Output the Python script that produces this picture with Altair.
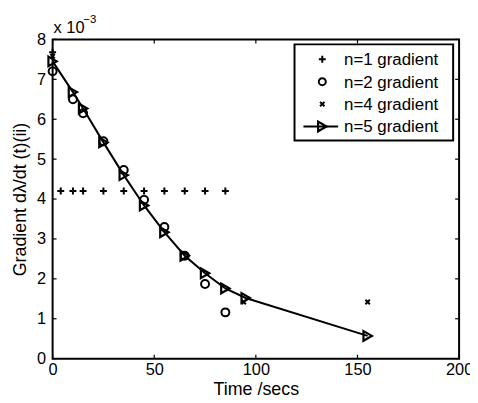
import altair as alt
import pandas as pd

# ---- data ----
t_n1 = [0, 4, 10, 15, 25, 35, 45, 55, 65, 75, 85]
g_n1 = [7.68e-3, 4.2e-3, 4.2e-3, 4.2e-3, 4.2e-3, 4.2e-3, 4.2e-3, 4.2e-3, 4.2e-3, 4.2e-3, 4.2e-3]

t_n2 = [0, 10, 15, 25, 35, 45, 55, 65, 75, 85]
g_n2 = [7.2e-3, 6.5e-3, 6.15e-3, 5.45e-3, 4.73e-3, 3.98e-3, 3.3e-3, 2.58e-3, 1.87e-3, 1.16e-3]

t_n4 = [0, 94, 155]
g_n4 = [7.58e-3, 1.42e-3, 1.42e-3]

t_n5 = [0, 10, 15, 25, 35, 45, 55, 65, 75, 85, 95, 155]
g_n5 = [7.45e-3, 6.68e-3, 6.27e-3, 5.42e-3, 4.6e-3, 3.84e-3, 3.17e-3, 2.58e-3, 2.14e-3, 1.76e-3, 1.52e-3, 0.57e-3]

x_ticks = [0, 50, 100, 150, 200]
y_ticks = [0, 1e-3, 2e-3, 3e-3, 4e-3, 5e-3, 6e-3, 7e-3, 8e-3]
legend_labels = ["n=1 gradient", "n=2 gradient", "n=4 gradient", "n=5 gradient"]
x_title = "Time /secs"
y_title = "Gradient dλ/dt (t)(ii)"

W, H = 410, 322
FONT = "Liberation Sans"

xscale = alt.Scale(domain=[0, 200], nice=False, zero=False)
yscale = alt.Scale(domain=[0, 0.008], nice=False, zero=False)

xaxis = alt.Axis(values=x_ticks, ticks=False, tickSize=0, domain=False, grid=False,
                 labelFlush=False, labelOverlap=False,
                 labelFont=FONT, labelFontSize=16.5, labelColor="black", labelPadding=3,
                 title=x_title, titleFont=FONT, titleFontSize=18, titleFontWeight="normal",
                 titleColor="black", titlePadding=3)
yaxis = alt.Axis(values=y_ticks, ticks=False, tickSize=0, domain=False, grid=False,
                 labelFlush=False, labelOverlap=False,
                 labelExpr="format(datum.value*1000, 'd')",
                 labelFont=FONT, labelFontSize=16.5, labelColor="black", labelPadding=7,
                 title=y_title, titleFont=FONT, titleFontSize=18, titleFontWeight="normal",
                 titleColor="black", titlePadding=7)

X = alt.X("time:Q", scale=xscale, axis=xaxis)
Y = alt.Y("gradient:Q", scale=yscale, axis=yaxis)

plus_path = "M-1,0L1,0M0,-1L0,1"
cross_path = "M-1,-1L1,1M-1,1L1,-1"

df1 = pd.DataFrame({"time": t_n1, "gradient": g_n1})
df2 = pd.DataFrame({"time": t_n2, "gradient": g_n2})
df4 = pd.DataFrame({"time": t_n4, "gradient": g_n4})
df5 = pd.DataFrame({"time": t_n5, "gradient": g_n5})

n1 = alt.Chart(df1).mark_point(shape=plus_path, filled=False, stroke="black",
                               strokeWidth=2, size=49, opacity=1).encode(x=X, y=Y)
n2 = alt.Chart(df2).mark_point(shape="circle", filled=False, stroke="black",
                               strokeWidth=2, size=64, opacity=1).encode(x=X, y=Y)
n4 = alt.Chart(df4).mark_point(shape=cross_path, filled=False, stroke="black",
                               strokeWidth=2, size=20, opacity=1).encode(x=X, y=Y)
n5_line = alt.Chart(df5).mark_line(color="black", strokeWidth=2).encode(x=X, y=Y)
n5_pts = alt.Chart(df5).mark_point(shape="triangle-right", filled=False, stroke="black",
                                   strokeWidth=2.2, size=95, opacity=1).encode(x=X, y=Y)

# inward ticks on all four sides
dfx = pd.DataFrame({"time": x_ticks})
dfy = pd.DataFrame({"gradient": y_ticks})
tick_len = 4
xt_bottom = alt.Chart(dfx).mark_rule(color="black", strokeWidth=1.2).encode(
    x=X, y=alt.value(H), y2=alt.value(H - tick_len))
xt_top = alt.Chart(dfx).mark_rule(color="black", strokeWidth=1.2).encode(
    x=X, y=alt.value(0), y2=alt.value(tick_len))
yt_left = alt.Chart(dfy).mark_rule(color="black", strokeWidth=1.2).encode(
    y=Y, x=alt.value(0), x2=alt.value(tick_len))
yt_right = alt.Chart(dfy).mark_rule(color="black", strokeWidth=1.2).encode(
    y=Y, x=alt.value(W), x2=alt.value(W - tick_len))

# exponent annotation
one = pd.DataFrame({"a": [0]})
exp_base = alt.Chart(one).mark_text(text="x 10", font=FONT, fontSize=16.5, align="left",
                                    baseline="alphabetic", color="black").encode(
    x=alt.value(1), y=alt.value(-6))
exp_pow = alt.Chart(one).mark_text(text="\u22123", font=FONT, fontSize=11.5, align="left",
                                   baseline="alphabetic", color="black").encode(
    x=alt.value(31), y=alt.value(-17))

# legend
LX0, LX1, LY0, LY1 = 244, 404, 5, 102
row_y = [20, 42.6, 65.2, 87.8]
sym_x, text_x = 272, 294
legend_layers = [
    alt.Chart(one).mark_rect(fill="white", stroke="black", strokeWidth=2).encode(
        x=alt.value(LX0), x2=alt.value(LX1), y=alt.value(LY0), y2=alt.value(LY1))
]
shapes = [(plus_path, 49, 2), ("circle", 50, 2), (cross_path, 20, 2), ("triangle-right", 95, 2.2)]
for i, lab in enumerate(legend_labels):
    shp, sz, sw = shapes[i]
    if i == 3:
        legend_layers.append(
            alt.Chart(one).mark_rule(color="black", strokeWidth=2).encode(
                x=alt.value(253), x2=alt.value(288), y=alt.value(row_y[i])))
    legend_layers.append(
        alt.Chart(one).mark_point(shape=shp, filled=False, stroke="black", strokeWidth=sw,
                                  size=sz, opacity=1).encode(
            x=alt.value(sym_x), y=alt.value(row_y[i])))
    legend_layers.append(
        alt.Chart(pd.DataFrame({"label": [lab]})).mark_text(
            font=FONT, fontSize=17, align="left", baseline="middle", color="black").encode(
            text="label:N", x=alt.value(text_x), y=alt.value(row_y[i] + 1)))

chart = alt.layer(
    xt_bottom, xt_top, yt_left, yt_right,
    n1, n2, n4, n5_line, n5_pts,
    exp_base, exp_pow,
    *legend_layers
).properties(
    width=W, height=H,
    autosize=alt.AutoSizeParams(type="none"),
    padding={"left": 45, "top": 30, "right": 11, "bottom": 40},
    background="white",
).configure_view(stroke="black", strokeWidth=2)

chart.save("out.html", embed_options={"renderer": "svg", "actions": False})
